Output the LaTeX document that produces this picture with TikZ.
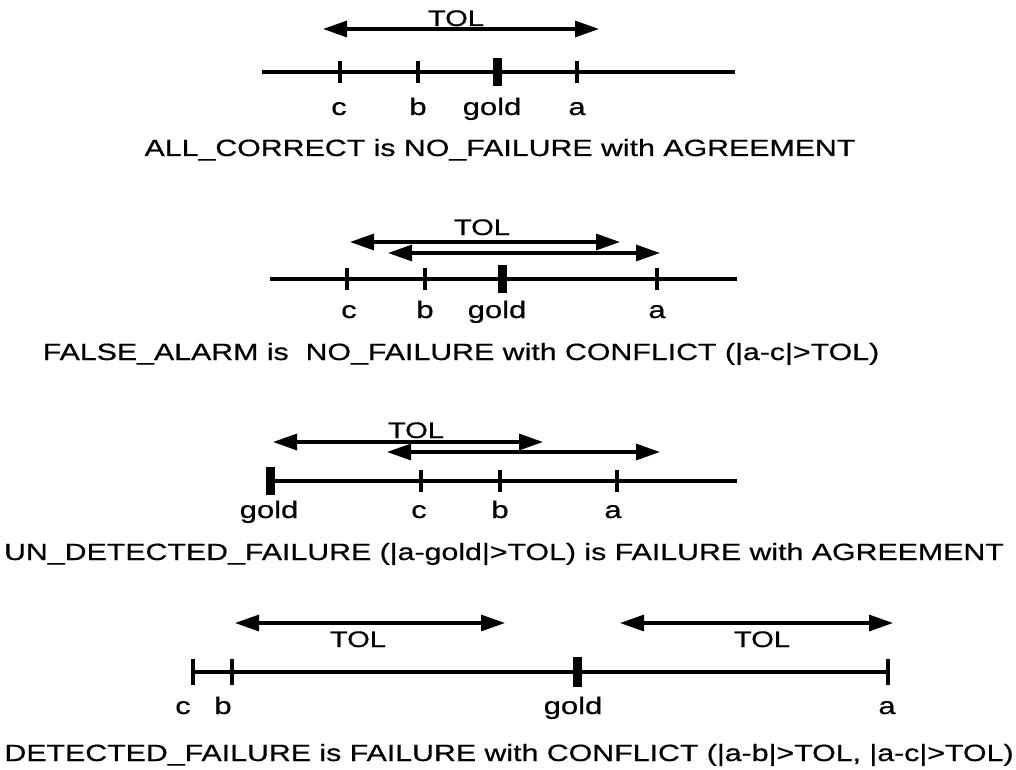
\documentclass[tikz,border=0pt]{standalone}
\usepackage{fontspec}
\setmainfont[FakeStretch=1.29,FakeBold=0.6]{Liberation Sans}
\usetikzlibrary{arrows.meta}
\begin{document}
\begin{tikzpicture}[x=1pt,y=-1pt,
  axis/.style={line width=3.2pt},
  tickmark/.style={line width=4.4pt},
  goldmark/.style={line width=9pt},
  tolarrow/.style={line width=3.2pt,
    {Triangle[length=24pt,width=16pt]}-{Triangle[length=24pt,width=16pt]}},
  lbl/.style={font=\fontsize{24}{28}\selectfont,inner sep=0pt,anchor=base},
  tollbl/.style={font=\fontsize{22.5}{26}\selectfont,inner sep=0pt,anchor=base},
  captionlbl/.style={font=\fontsize{23.5}{28}\selectfont,inner sep=0pt,anchor=base}]
\useasboundingbox (0,0) rectangle (1016,770);

% ---------- ALL_CORRECT ----------
\coordinate (p1s) at (262,72);
\coordinate (p1e) at (735,72);
\draw[axis] (p1s) -- (p1e);
\coordinate (p1c) at (340,72);
\coordinate (p1b) at (418,72);
\coordinate (p1g) at (497,72);
\coordinate (p1a) at (577,72);
\foreach \p in {p1c,p1b,p1a} \draw[tickmark] ([yshift=-11pt]\p) -- ([yshift=11pt]\p);
\draw[goldmark] ([yshift=-14pt]p1g) -- ([yshift=14pt]p1g);
\coordinate (p1l) at (323,29);
\coordinate (p1r) at (599,29);
\draw[tolarrow] (p1l) -- (p1r);
\node[tollbl] (p1tol) at (456,26) {TOL};
\node[lbl] (p1lc) at (339,115) {c};
\node[lbl] (p1lb) at (418,115) {b};
\node[lbl] (p1lg) at (492,115) {gold};
\node[lbl] (p1la) at (577,115) {a};
\node[captionlbl] (cap1) at (500,156) {ALL\_CORRECT is NO\_FAILURE with AGREEMENT};

% ---------- FALSE_ALARM ----------
\coordinate (p2s) at (270,279);
\coordinate (p2e) at (737,279);
\draw[axis] (p2s) -- (p2e);
\coordinate (p2c) at (347,279);
\coordinate (p2b) at (425,279);
\coordinate (p2g) at (502,279);
\coordinate (p2a) at (657,279);
\foreach \p in {p2c,p2b,p2a} \draw[tickmark] ([yshift=-11pt]\p) -- ([yshift=11pt]\p);
\draw[goldmark] ([yshift=-14pt]p2g) -- ([yshift=14pt]p2g);
\coordinate (p2l1) at (350,242);
\coordinate (p2r1) at (620,242);
\coordinate (p2l2) at (388,253);
\coordinate (p2r2) at (660,253);
\draw[tolarrow] (p2l1) -- (p2r1);
\draw[tolarrow] (p2l2) -- (p2r2);
\node[tollbl] (p2tol) at (482,235) {TOL};
\node[lbl] (p2lc) at (349,318) {c};
\node[lbl] (p2lb) at (425,318) {b};
\node[lbl] (p2lg) at (497,318) {gold};
\node[lbl] (p2la) at (657,318) {a};
\node[captionlbl] (cap2) at (461,360) {FALSE\_ALARM is\ \ NO\_FAILURE with CONFLICT (|a-c|>TOL)};

% ---------- UN_DETECTED_FAILURE ----------
\coordinate (p3s) at (270,481);
\coordinate (p3e) at (737,481);
\draw[axis] (p3s) -- (p3e);
\coordinate (p3g) at (270,481);
\coordinate (p3c) at (421,481);
\coordinate (p3b) at (500,481);
\coordinate (p3a) at (617,481);
\foreach \p in {p3c,p3b,p3a} \draw[tickmark] ([yshift=-11pt]\p) -- ([yshift=11pt]\p);
\draw[goldmark] ([yshift=-14pt]p3g) -- ([yshift=14pt]p3g);
\coordinate (p3l1) at (273,442);
\coordinate (p3r1) at (543,442);
\coordinate (p3l2) at (387,452);
\coordinate (p3r2) at (660,452);
\draw[tolarrow] (p3l1) -- (p3r1);
\draw[tolarrow] (p3l2) -- (p3r2);
\node[tollbl] (p3tol) at (416,438) {TOL};
\node[lbl] (p3lg) at (269,518) {gold};
\node[lbl] (p3lc) at (419,518) {c};
\node[lbl] (p3lb) at (500,518) {b};
\node[lbl] (p3la) at (613,518) {a};
\node[captionlbl] (cap3) at (504,560) {UN\_DETECTED\_FAILURE (|a-gold|>TOL) is FAILURE with AGREEMENT};

% ---------- DETECTED_FAILURE ----------
\coordinate (p4s) at (193,672);
\coordinate (p4e) at (888,672);
\draw[axis] (p4s) -- (p4e);
\coordinate (p4c) at (193,672);
\coordinate (p4b) at (232,672);
\coordinate (p4g) at (577,672);
\coordinate (p4a) at (888,672);
\foreach \p in {p4c,p4b,p4a} \draw[tickmark] ([yshift=-13pt]\p) -- ([yshift=13pt]\p);
\draw[goldmark] ([yshift=-15pt]p4g) -- ([yshift=15pt]p4g);
\coordinate (p4l1) at (235,623);
\coordinate (p4r1) at (505,623);
\coordinate (p4l2) at (620,623);
\coordinate (p4r2) at (893,623);
\draw[tolarrow] (p4l1) -- (p4r1);
\draw[tolarrow] (p4l2) -- (p4r2);
\node[tollbl] (p4tol1) at (358,647) {TOL};
\node[tollbl] (p4tol2) at (762,647) {TOL};
\node[lbl] (p4lc) at (183,714) {c};
\node[lbl] (p4lb) at (223,714) {b};
\node[lbl] (p4lg) at (573,714) {gold};
\node[lbl] (p4la) at (887,714) {a};
\node[captionlbl] (cap4) at (509,761) {DETECTED\_FAILURE is FAILURE with CONFLICT (|a-b|>TOL, |a-c|>TOL)};
\end{tikzpicture}
\end{document}
